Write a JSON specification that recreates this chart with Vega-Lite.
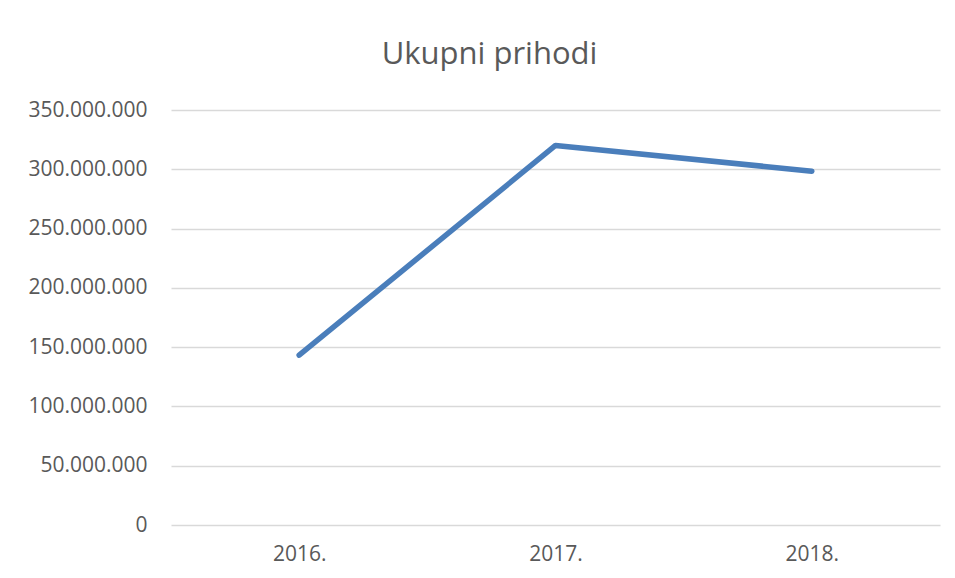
{
  "$schema": "https://vega.github.io/schema/vega-lite/v6.json",
  "autosize": {"type": "none"},
  "padding": {"left": 171, "top": 110, "right": 15, "bottom": 53},
  "width": 769,
  "height": 415,
  "background": "white",
  "config": {
    "locale": {"number": {"decimal": ",", "thousands": ".", "grouping": [3], "currency": ["", " kn"]}},
    "view": {"stroke": null},
    "font": "Open Sans"
  },
  "title": {
    "text": "Ukupni prihodi",
    "fontSize": 31,
    "font": "Open Sans",
    "fontWeight": "normal",
    "color": "#595959",
    "anchor": "middle",
    "dx": -66,
    "offset": 28
  },
  "data": {
    "values": [
      {"godina": "2016.", "prihodi": 143200000},
      {"godina": "2017.", "prihodi": 320100000},
      {"godina": "2018.", "prihodi": 298400000}
    ]
  },
  "mark": {"type": "line", "color": "#4A7EBB", "strokeWidth": 5.5, "strokeCap": "round", "strokeJoin": "round"},
  "encoding": {
    "x": {
      "field": "godina",
      "type": "ordinal",
      "scale": {"type": "point", "padding": 0.5},
      "axis": {
        "title": null,
        "labelAngle": 0,
        "ticks": false,
        "domain": false,
        "grid": false,
        "labelFontSize": 21,
        "labelColor": "#595959",
        "labelPadding": 18
      }
    },
    "y": {
      "field": "prihodi",
      "type": "quantitative",
      "scale": {"domain": [0, 350000000], "nice": false},
      "axis": {
        "title": null,
        "values": [0, 50000000, 100000000, 150000000, 200000000, 250000000, 300000000, 350000000],
        "format": ",.0f",
        "ticks": false,
        "domain": false,
        "grid": true,
        "gridColor": "#D9D9D9",
        "gridWidth": 1.5,
        "labelFontSize": 21,
        "labelColor": "#595959",
        "labelPadding": 24
      }
    }
  }
}
